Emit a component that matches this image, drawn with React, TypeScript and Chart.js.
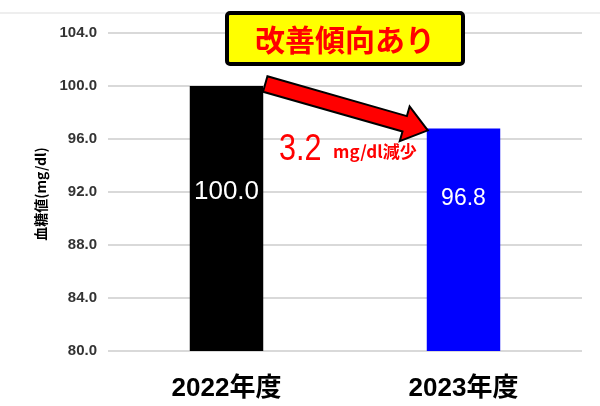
import React, { useEffect, useRef } from 'react';
import { Chart, registerables } from 'chart.js';

Chart.register(...registerables);

// chart data
const categories = ['2022年度', '2023年度'];
const glucose = [100.0, 96.8];
const barColors = ['#000000', '#0000ff'];
const yMin = 80;
const yMax = 104;
const yStep = 4;

// texts
const yTitle = '血糖値(mg/dl)';
const headline = '改善傾向あり';
const diffValue = '3.2';
const diffUnit = 'mg/dl減少';

const LATIN = "'Liberation Sans', 'Noto Sans CJK JP', sans-serif";
const CJK = "'Noto Sans CJK JP', 'Liberation Sans', sans-serif";

const overlay = {
  id: 'overlay',
  beforeDraw(chart: any) {
    const ctx = chart.ctx;
    ctx.save();
    ctx.strokeStyle = '#eeeeee';
    ctx.lineWidth = 2;
    ctx.beginPath();
    ctx.moveTo(0, 13);
    ctx.lineTo(chart.width, 13);
    ctx.stroke();
    ctx.restore();
  },
  afterDraw(chart: any) {
    const ctx = chart.ctx;
    const y = chart.scales.y;
    const bars = chart.getDatasetMeta(0).data;
    ctx.save();

    // y axis title
    ctx.save();
    ctx.translate(41, 194);
    ctx.rotate(-Math.PI / 2);
    ctx.fillStyle = '#000';
    ctx.font = `bold 14px ${CJK}`;
    ctx.textAlign = 'center';
    ctx.textBaseline = 'middle';
    ctx.fillText(yTitle, 0, 0);
    ctx.restore();

    // value labels inside bars
    ctx.fillStyle = '#ffffff';
    ctx.textAlign = 'center';
    ctx.textBaseline = 'middle';
    bars.forEach((bar: any, i: number) => {
      ctx.font = i === 0 ? `26px ${LATIN}` : `23px ${LATIN}`;
      ctx.fillText(glucose[i].toFixed(1), bar.x, y.getPixelForValue(92) + i * 7);
    });

    // arrow from bar 1 to bar 2
    const b1 = bars[0];
    const b2 = bars[1];
    const tx = b1.x + b1.width / 2 + 2;
    const ty = b1.y - 2;
    const hx = b2.x - b2.width / 2 + 1;
    const hy = b2.y + 2;
    const ang = Math.atan2(hy - ty, hx - tx);
    const len = Math.hypot(hx - tx, hy - ty);
    const sw = 8;
    const hw = 18;
    const hl = 24;
    ctx.save();
    ctx.translate(tx, ty);
    ctx.rotate(ang);
    ctx.beginPath();
    ctx.moveTo(0, -sw);
    ctx.lineTo(len - hl, -sw);
    ctx.lineTo(len - hl, -hw);
    ctx.lineTo(len, 0);
    ctx.lineTo(len - hl, hw);
    ctx.lineTo(len - hl, sw);
    ctx.lineTo(0, sw);
    ctx.closePath();
    ctx.fillStyle = '#ff0000';
    ctx.fill();
    ctx.strokeStyle = '#000';
    ctx.lineWidth = 2;
    ctx.lineJoin = 'miter';
    ctx.stroke();
    ctx.restore();

    // headline box
    ctx.fillStyle = '#ffff00';
    ctx.strokeStyle = '#000';
    ctx.lineWidth = 4;
    ctx.beginPath();
    ctx.roundRect(227, 13, 236, 51, 3);
    ctx.fill();
    ctx.stroke();
    ctx.fillStyle = '#ff0000';
    ctx.font = `bold 30px ${CJK}`;
    ctx.textAlign = 'center';
    ctx.textBaseline = 'middle';
    ctx.fillText(headline, 345, 40);

    // difference text (narrow, tall digits)
    ctx.textAlign = 'left';
    ctx.textBaseline = 'alphabetic';
    ctx.save();
    ctx.translate(279, 160);
    ctx.scale(0.85, 1);
    ctx.font = `36px ${LATIN}`;
    ctx.fillText(diffValue, 0, 0);
    ctx.restore();
    ctx.font = `bold 17px ${CJK}`;
    ctx.fillText(diffUnit, 333, 158);

    ctx.restore();
  },
};

const App: React.FC = () => {
  const canvasRef = useRef<HTMLCanvasElement | null>(null);
  const chartRef = useRef<Chart | null>(null);

  useEffect(() => {
    if (!canvasRef.current) return;
    if (chartRef.current) chartRef.current.destroy();

    chartRef.current = new Chart(canvasRef.current, {
      type: 'bar',
      data: {
        labels: categories,
        datasets: [
          {
            data: glucose,
            backgroundColor: barColors,
            barPercentage: 1,
            categoryPercentage: 0.31,
          },
        ],
      },
      options: {
        animation: false,
        responsive: true,
        maintainAspectRatio: false,
        layout: { padding: { top: 33, right: 18, left: 0, bottom: 0 } },
        plugins: {
          legend: { display: false },
          tooltip: { enabled: false },
        },
        scales: {
          x: {
            grid: { display: false },
            border: { display: false },
            ticks: {
              color: '#000',
              font: { family: LATIN, size: 26, weight: 'bold' },
              padding: 14,
            },
            afterFit: (scale: any) => {
              scale.height = 55;
            },
          },
          y: {
            min: yMin,
            max: yMax,
            border: { display: false },
            grid: { color: '#d9d9d9', lineWidth: 2, drawTicks: false },
            ticks: {
              stepSize: yStep,
              color: '#333',
              padding: 11,
              font: { family: LATIN, size: 15, weight: 'bold' },
              callback: (v: any) => Number(v).toFixed(1),
            },
            afterFit: (scale: any) => {
              scale.width = 108;
            },
          },
        },
      },
      plugins: [overlay],
    });

    return () => {
      if (chartRef.current) {
        chartRef.current.destroy();
        chartRef.current = null;
      }
    };
  }, []);

  return (
    <div style={{ position: 'fixed', left: 0, top: 0, width: 600, height: 406, background: '#fff' }}>
      <canvas ref={canvasRef}></canvas>
    </div>
  );
};

export default App;
